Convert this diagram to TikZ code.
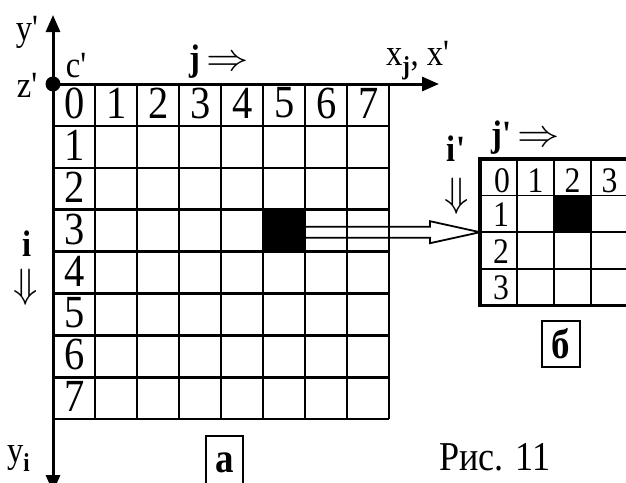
\documentclass[tikz,border=0pt]{standalone}
\usepackage{graphicx}
\usepackage{fontspec}
\setmainfont{Liberation Serif}
\usetikzlibrary{arrows.meta}
\newcommand*{\caseX}{42}
\newcommand*{\caseY}{41.9}
\newcommand*{\petitX}{37}
\newcommand*{\petitY}{36.6}
\newcommand*{\prim}{\textquotesingle}
\newcommand*{\serre}[1]{\scalebox{0.88}[1]{#1}}
\newcommand*{\flecheD}{{\fontsize{24.88}{24.88}\selectfont\scalebox{1.7}[1.55]{$\Rightarrow$}}}
\newcommand*{\flecheB}{{\fontsize{24.88}{24.88}\selectfont\scalebox{1.6}[1.65]{$\Downarrow$}}}
\tikzset{
	grille/.style={line width=2.5pt},
	petitegrille/.style={line width=1.6pt},
	bord/.style={line width=3.2pt},
	axe/.style={line width=3pt,-{Triangle[length=17pt,width=14pt]}},
	fleche/.style={line width=1.8pt,line join=miter},
	chiffre/.style={font=\fontsize{46}{46}\selectfont,inner sep=0pt},
	petitchiffre/.style={font=\fontsize{36}{36}\selectfont,inner sep=0pt},
	etiquette/.style={font=\fontsize{37}{37}\selectfont,inner sep=0pt},
	cadre/.style={draw,line width=1.6pt},
	lettre/.style={font=\fontsize{42}{42}\selectfont,inner sep=0pt},
	noir/.style={fill=black,draw=black,inner sep=0pt}
}
\begin{document}
\begin{tikzpicture}[x=1pt,y=-1pt]
	\useasboundingbox (0,0) rectangle (626,482);
	\coordinate(O) at (53,84);
	\coordinate(X) at (439,84);
	\coordinate(Y) at (53,15);
	\coordinate(Ybas) at (53,492);

	% grille a
	\foreach \k in {0,...,8}{
		\draw[grille] ({53+\caseX*\k},84) -- ({53+\caseX*\k},{84+8*\caseY});
		\draw[grille] (53,{84+\caseY*\k}) -- ({53+8*\caseX},{84+\caseY*\k});
	}
	\node[noir,minimum width=\caseX pt,minimum height=\caseY pt] (src) at ({53+5.5*\caseX},{84+3.5*\caseY}) {};
	\foreach \k in {0,...,7}
		\node[chiffre] (c\k) at ({53+\caseX*\k+21.5},{84+19}) {\serre{\k}};
	\foreach \k in {1,...,7}
		\node[chiffre] (r\k) at (74.5,{84+\caseY*\k+19.5}) {\serre{\k}};

	\draw[axe] (O) -- (X);
	\draw[axe] (O) -- (Y);
	\draw[axe] (O) -- (Ybas);
	\fill (O) circle (7.5);

	\node[etiquette,anchor=base] (yp) at (27,40) {\serre{y\prim}};
	\node[etiquette,anchor=base] (cp) at (76,77) {\serre{c\prim}};
	\node[etiquette,anchor=base] (zp) at (27,97) {\serre{z\prim}};
	\node[etiquette,anchor=base west] (jfl) at (189,70) {\serre{\textbf{j}}\,\flecheD};
	\node[etiquette,anchor=base west] (xj) at (386,65) {\serre{x\textsubscript{\textbf{j}}, x\prim}};
	\node[etiquette,anchor=base] (il) at (27,256) {\serre{\textbf{i}}};
	\node[etiquette,anchor=north] (ifl) at (26,269) {\flecheB};
	\node[etiquette,anchor=base west] (yi) at (7,462) {\serre{y\textsubscript{\textbf{i}}}};
	\draw[cadre] (206,436) rectangle (243,495);
	\node[lettre] (boita) at (224.5,463) {\serre{\textbf{а}}};

	% grille b
	\foreach \k in {1,...,3}{
		\draw[petitegrille] ({480+\petitX*\k},159) -- ({480+\petitX*\k},{159+4*\petitY});
		\draw[petitegrille] (480,{159+\petitY*\k}) -- ({480+4*\petitX},{159+\petitY*\k});
	}
	\draw[bord] (480,159) rectangle ({480+4*\petitX},{159+4*\petitY});
	\node[noir,minimum width=\petitX pt,minimum height=\petitY pt] (dst) at ({480+2.5*\petitX},{159+1.5*\petitY}) {};
	\node[petitchiffre] (pc0) at (502,181) {\serre{0}};
	\foreach \k in {1,...,3}
		\node[petitchiffre] (pc\k) at ({480+\petitX*\k+18.5},181) {\serre{\k}};
	\foreach \k in {1,...,3}
		\node[petitchiffre] (pr\k) at (501,{159+\petitY*\k+19}) {\serre{\k}};

	\node[etiquette,anchor=base west] (jpfl) at (491,146) {\serre{\textbf{j\prim}}\,\flecheD};
	\node[etiquette,anchor=base] (ipl) at (456,161) {\serre{\textbf{i\prim}}};
	\node[etiquette,anchor=north] (ipfl) at (457,178) {\flecheB};
	\node[cadre,lettre,minimum width=38pt,minimum height=46pt] (boitb) at (561,344) {\serre{\textbf{б}}};

	% fleche creuse
	\coordinate(tip) at (480,{159+2*\petitY});
	\coordinate(au) at ([shift={(-50,-5.5)}]tip);
	\coordinate(ad) at ([shift={(-50,5.5)}]tip);
	\draw[fleche] (src.east |- au) -- (au) -- ([shift={(-50,-11)}]tip) -- (tip)
		-- ([shift={(-50,11)}]tip) -- (ad) -- (src.east |- ad);

	\node[font=\fontsize{41}{41}\selectfont,inner sep=0pt,anchor=base west] (fig) at (439,470) {\serre{Рис. 11}};
\end{tikzpicture}
\end{document}
